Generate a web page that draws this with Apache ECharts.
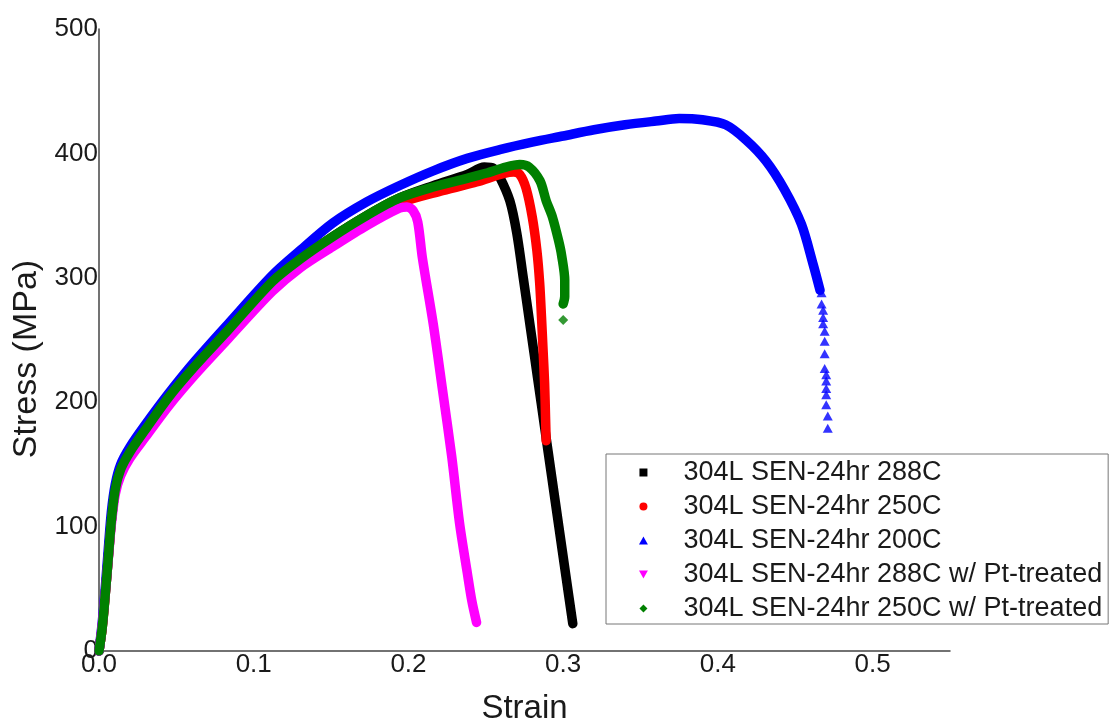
<!DOCTYPE html>
<html>
<head>
<meta charset="utf-8">
<script src="https://cdn.jsdelivr.net/npm/echarts@6/dist/echarts.min.js"></script>
<style>
html,body{margin:0;padding:0;background:#fff;}
#chart{width:1109px;height:722px;}
</style>
</head>
<body>
<div id="chart"></div>
<script>
// ---- data (strain, stress MPa) ----
const seriesNames = [
  "304L SEN-24hr 288C",
  "304L SEN-24hr 250C",
  "304L SEN-24hr 200C",
  "304L SEN-24hr 288C w/ Pt-treated",
  "304L SEN-24hr 250C w/ Pt-treated"
];
const blackData = [[0,0],[0.002,18],[0.004,45],[0.006,75],[0.008,105],[0.0105,130],[0.014,146],[0.02,160],[0.03,178],[0.045,204],[0.062,229],[0.0835,258],[0.112,297],[0.13,315],[0.151,333],[0.173,350],[0.194,364],[0.216,374],[0.238,383],[0.249,389],[0.255,388],[0.259,381],[0.2655,362],[0.27,336],[0.2742,300],[0.2788,260],[0.2834,220],[0.288,180],[0.2926,140],[0.2972,100],[0.3018,60],[0.3062,22]];
const redData = [[0,0],[0.002,18],[0.004,45],[0.006,75],[0.008,105],[0.0105,130],[0.014,146],[0.02,160],[0.03,178],[0.045,204],[0.062,229],[0.0835,258],[0.112,296],[0.13,314],[0.151,331],[0.173,347],[0.194,360],[0.222,370],[0.244,377],[0.268,385],[0.272,383],[0.276,372],[0.28,349],[0.283,322],[0.2848,296],[0.286,268],[0.287,242],[0.288,215],[0.2886,188],[0.289,169]];
const blueData = [[0,0],[0.002,22],[0.004,50],[0.006,82],[0.008,112],[0.0105,134],[0.014,150],[0.02,164],[0.03,182],[0.045,207],[0.062,233],[0.0835,263],[0.112,302],[0.13,322],[0.151,344],[0.173,361],[0.194,374],[0.216,386],[0.238,396],[0.259,403],[0.28,409],[0.30,414],[0.32,419],[0.34,423],[0.36,426],[0.375,428],[0.39,427],[0.405,423],[0.418,411],[0.431,394],[0.443,371],[0.454,343],[0.4615,311],[0.466,290]];
const blueTail = [[0.467,288],[0.467,279],[0.468,274],[0.468,268],[0.468,263],[0.469,257],[0.469,249],[0.469,239],[0.469,227],[0.47,222],[0.47,217],[0.47,211],[0.47,206],[0.47,198],[0.471,189],[0.471,179]];
const magentaData = [[0,0],[0.002,20],[0.004,46],[0.006,74],[0.008,102],[0.0105,126],[0.014,141],[0.02,155],[0.03,172],[0.045,197],[0.062,222],[0.0835,251],[0.112,289],[0.13,308],[0.151,325],[0.173,342],[0.194,356],[0.199,357],[0.203,354],[0.206,345],[0.209,316],[0.216,263],[0.222,210],[0.228,156],[0.233,103],[0.238,63],[0.241,40],[0.244,23]];
const greenData = [[0,0],[0.002,18],[0.004,45],[0.006,75],[0.008,105],[0.0105,130],[0.014,146],[0.02,160],[0.03,178],[0.045,204],[0.062,229],[0.0835,258],[0.112,297],[0.13,315],[0.151,333],[0.173,350],[0.194,364],[0.216,373],[0.238,380],[0.25,384],[0.263,389],[0.272,391],[0.278,389],[0.285,378],[0.289,362],[0.293,349],[0.297,330],[0.299,318],[0.301,298],[0.301,285],[0.300,279]];
const greenTail = [[0.300,266]];
const xTicks = [0, 0.1, 0.2, 0.3, 0.4, 0.5];
const yTicks = [0, 100, 200, 300, 400, 500];

const colors = ['#000000', '#ff0000', '#0000ff', '#ff00ff', '#008000'];
const FONT = 'Liberation Sans, Arial, sans-serif';

function lineSeries(name, data, color) {
  return {
    name: name, type: 'line', data: data, showSymbol: false, symbol: 'none',
    smooth: 0.3,
    color: color,
    lineStyle: {width: 9.5, color: color, cap: 'round', join: 'round'},
    itemStyle: {color: color},
    silent: true, z: 2
  };
}

const chart = echarts.init(document.getElementById('chart'), null, {renderer: 'canvas'});
chart.setOption({
  animation: false,
  backgroundColor: '#ffffff',
  grid: {left: 99, right: 159, top: 29, bottom: 71, containLabel: false, outerBoundsMode: 'none'},
  xAxis: {
    type: 'value', min: xTicks[0], max: 0.55, interval: 0.1,
    name: 'Strain', nameLocation: 'middle', nameGap: 41,
    nameTextStyle: {fontSize: 33, color: '#1a1a1a', fontFamily: FONT},
    axisLine: {show: true, lineStyle: {color: '#444', width: 1.5}},
    axisTick: {show: false},
    splitLine: {show: false},
    axisLabel: {fontSize: 26, color: '#1a1a1a', fontFamily: FONT, margin: 1, showMaxLabel: false,
      formatter: v => (xTicks.some(t => Math.abs(t - v) < 1e-9) ? v.toFixed(1) : '')}
  },
  yAxis: {
    type: 'value', min: yTicks[0], max: yTicks[yTicks.length - 1], interval: 100,
    name: 'Stress (MPa)', nameLocation: 'middle', nameGap: 50,
    nameTextStyle: {fontSize: 34, color: '#1a1a1a', fontFamily: FONT, padding: [0, 38, 0, 0]},
    axisLine: {show: true, lineStyle: {color: '#444', width: 1.5}},
    axisTick: {show: false},
    splitLine: {show: false},
    axisLabel: {fontSize: 26, color: '#1a1a1a', fontFamily: FONT, margin: 1}
  },
  legend: {
    orient: 'vertical', left: 606, top: 454,
    padding: [5, 6, 2, 33], itemGap: 7,
    itemWidth: 70, itemHeight: 8,
    borderColor: '#777', borderWidth: 1, backgroundColor: '#fff',
    selectedMode: false,
    itemStyle: {borderWidth: 0},
    textStyle: {fontSize: 27, color: '#1a1a1a', fontFamily: FONT},
    data: [
      {name: seriesNames[0], icon: 'path://M0,0L10,0L10,10L0,10Z'},
      {name: seriesNames[1], icon: 'circle'},
      {name: seriesNames[2], icon: 'path://M5,0L10,9L0,9Z'},
      {name: seriesNames[3], icon: 'path://M0,0L10,0L5,9Z'},
      {name: seriesNames[4], icon: 'path://M5,0L10,5L5,10L0,5Z'}
    ]
  },
  series: [
    lineSeries(seriesNames[0], blackData, colors[0]),
    lineSeries(seriesNames[1], redData, colors[1]),
    lineSeries(seriesNames[2], blueData, colors[2]),
    {name: seriesNames[2], type: 'scatter', data: blueTail, symbol: 'triangle', symbolSize: [10, 9],
      itemStyle: {color: colors[2]}, silent: true, z: 2},
    lineSeries(seriesNames[3], magentaData, colors[3]),
    lineSeries(seriesNames[4], greenData, colors[4]),
    {name: seriesNames[4], type: 'scatter', data: greenTail, symbol: 'diamond', symbolSize: 10,
      itemStyle: {color: colors[4]}, silent: true, z: 2}
  ]
});
</script>
</body>
</html>
